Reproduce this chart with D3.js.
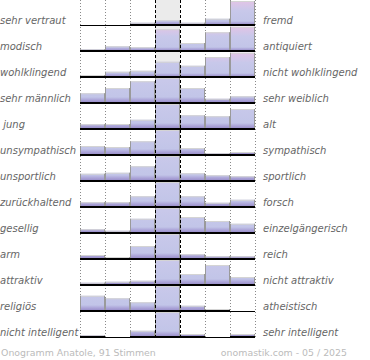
<!DOCTYPE html>
<html><head><meta charset="utf-8">
<script src="https://cdn.jsdelivr.net/npm/d3@7"></script>
<style>
html,body{margin:0;padding:0;background:#fff;}
svg{display:block;}
text{white-space:pre;}
</style></head>
<body>
<svg id="chart" width="370" height="360"></svg>
<script>
// ---- data ----
const leftLabels = ["sehr vertraut","modisch","wohlklingend","sehr männlich"," jung","unsympathisch","unsportlich","zurückhaltend","gesellig","arm","attraktiv","religiös","nicht intelligent"];
const rightLabels = ["fremd","antiquiert","nicht wohlklingend","sehr weiblich","alt","sympathisch","sportlich","forsch","einzelgängerisch","reich","nicht attraktiv","atheistisch","sehr intelligent"];
// relative bar heights per row (7 steps, 100 = full row height; centre values above 100 are clipped)
const row01 = [0, 0, 9, 19, 9, 25, 96];
const row02 = [7, 19, 15, 87, 32, 75, 97];
const row03 = [8, 21, 25, 61, 45, 80, 97];
const row04 = [39, 60, 87, 150, 60, 17, 27];
const row05 = [19, 20, 37, 150, 55, 51, 80];
const row06 = [36, 32, 55, 150, 28, 7, 12];
const row07 = [29, 33, 59, 150, 31, 23, 19];
const row08 = [19, 19, 43, 150, 43, 17, 29];
const row09 = [15, 9, 57, 150, 64, 48, 37];
const row10 = [16, 8, 52, 150, 19, 11, 11];
const row11 = [9, 13, 17, 150, 44, 80, 32];
const row12 = [61, 51, 35, 150, 21, 8, 0];
const row13 = [7, 0, 25, 150, 12, 0, 12];
const footerLeft = "Onogramm Anatole, 91 Stimmen";
const footerRight = "onomastik.com - 05 / 2025";

const rows = [row01,row02,row03,row04,row05,row06,row07,row08,row09,row10,row11,row12,row13];
const steps = d3.range(7);

// ---- scales ----
const svg = d3.select("#chart");
const x = d3.scaleBand().domain(steps).range([80, 255]).padding(0);
const yBase = d3.scaleLinear().domain([0, rows.length - 1]).range([25, 337]);
const h = d3.scaleLinear().domain([0, 100]).range([0, 25]).clamp(true);
const hRaw = d3.scaleLinear().domain([0, 100]).range([0, 25]);

const defs = svg.append("defs");
rows.forEach((r, i) => {
  const b = yBase(i);
  const g = defs.append("linearGradient").attr("id", "g" + i)
    .attr("gradientUnits", "userSpaceOnUse")
    .attr("x1", 0).attr("x2", 0).attr("y1", b).attr("y2", b - hRaw(d3.max(r)));
  [[0, "#9488c6"], [0.09, "#aea8da"], [0.16, "#c2c5e8"], [0.6, "#c8c8ea"], [1, "#e2c4e6"]]
    .forEach(([o, c]) => g.append("stop").attr("offset", o).attr("stop-color", c));
});

// centre column background
svg.append("g").selectAll("rect").data(rows).join("rect")
  .attr("x", x(3)).attr("width", x.bandwidth())
  .attr("y", (d, i) => yBase(i) - h(100)).attr("height", h(100))
  .attr("fill", "#ebebeb");

// dotted grid
svg.append("g").selectAll("line").data([0,1,2,5,6,7]).join("line")
  .attr("x1", d => 80 + d * x.bandwidth()).attr("x2", d => 80 + d * x.bandwidth())
  .attr("y1", 0).attr("y2", yBase(rows.length - 1) + 1)
  .attr("stroke", "#8a8a8a").attr("stroke-width", 1).attr("stroke-dasharray", "1,2")
  .attr("shape-rendering", "crispEdges").attr("transform", "translate(0.5,0)");

// bars
const rowG = svg.append("g").selectAll("g").data(rows).join("g");
rowG.each(function(r, i) {
  const g = d3.select(this);
  const b = yBase(i);
  const nz = r.map((v, j) => ({v, j})).filter(d => d.v > 0);
  g.selectAll("rect.bar").data(nz).join("rect").attr("class", "bar")
    .attr("x", d => x(d.j)).attr("width", x.bandwidth())
    .attr("y", d => b - h(d.v)).attr("height", d => h(d.v))
    .attr("fill", "url(#g" + i + ")");
  // top edge
  g.selectAll("line.top").data(nz).join("line").attr("class", "top")
    .attr("x1", d => x(d.j)).attr("x2", d => x(d.j) + x.bandwidth())
    .attr("y1", d => b - h(d.v) + 0.5).attr("y2", d => b - h(d.v) + 0.5)
    .attr("stroke", "#d4d4d4").attr("stroke-width", 1);
  // side edges
  g.selectAll("line.side").data(nz.flatMap(d => [{...d, e: x(d.j) + 0.5}, {...d, e: x(d.j) + x.bandwidth() - 0.5}]))
    .join("line").attr("class", "side")
    .attr("x1", d => d.e).attr("x2", d => d.e)
    .attr("y1", d => b - h(d.v)).attr("y2", b)
    .attr("stroke", "#9a9a9a").attr("stroke-width", 1);
  // baseline
  g.append("line").attr("x1", x(0)).attr("x2", x(6) + x.bandwidth())
    .attr("y1", b + 0.5).attr("y2", b + 0.5).attr("stroke", "#000").attr("stroke-width", 1);
  g.selectAll("rect.bl").data(nz).join("rect").attr("class", "bl")
    .attr("x", d => x(d.j)).attr("width", x.bandwidth())
    .attr("y", b - 1).attr("height", 2).attr("fill", "#000");
});

// dashed centre lines
svg.append("g").selectAll("line").data([3,4]).join("line")
  .attr("x1", d => 80 + d * x.bandwidth()).attr("x2", d => 80 + d * x.bandwidth())
  .attr("y1", 0).attr("y2", yBase(rows.length - 1) + 1)
  .attr("stroke", "#000").attr("stroke-width", 1).attr("stroke-dasharray", "3,2")
  .attr("transform", "translate(0.5,0)");

// labels
const font = "'DejaVu Sans', Verdana, sans-serif";
svg.append("g").selectAll("text").data(leftLabels).join("text")
  .attr("x", 0).attr("y", (d, i) => yBase(i) - 1.5)
  .attr("font-family", font).attr("font-size", 10).attr("font-style", "italic")
  .attr("fill", "#666").text(d => d);
svg.append("g").selectAll("text").data(rightLabels).join("text")
  .attr("x", 263).attr("y", (d, i) => yBase(i) - 1.5)
  .attr("font-family", font).attr("font-size", 10).attr("font-style", "italic")
  .attr("fill", "#666").text(d => d);

svg.append("text").attr("x", 1).attr("y", 356)
  .attr("font-family", font).attr("font-size", 9.4).attr("fill", "#bbb").text(footerLeft);
svg.append("text").attr("x", 347).attr("y", 356).attr("text-anchor", "end")
  .attr("font-family", font).attr("font-size", 9.4).attr("fill", "#bbb").text(footerRight);
</script>
</body></html>
